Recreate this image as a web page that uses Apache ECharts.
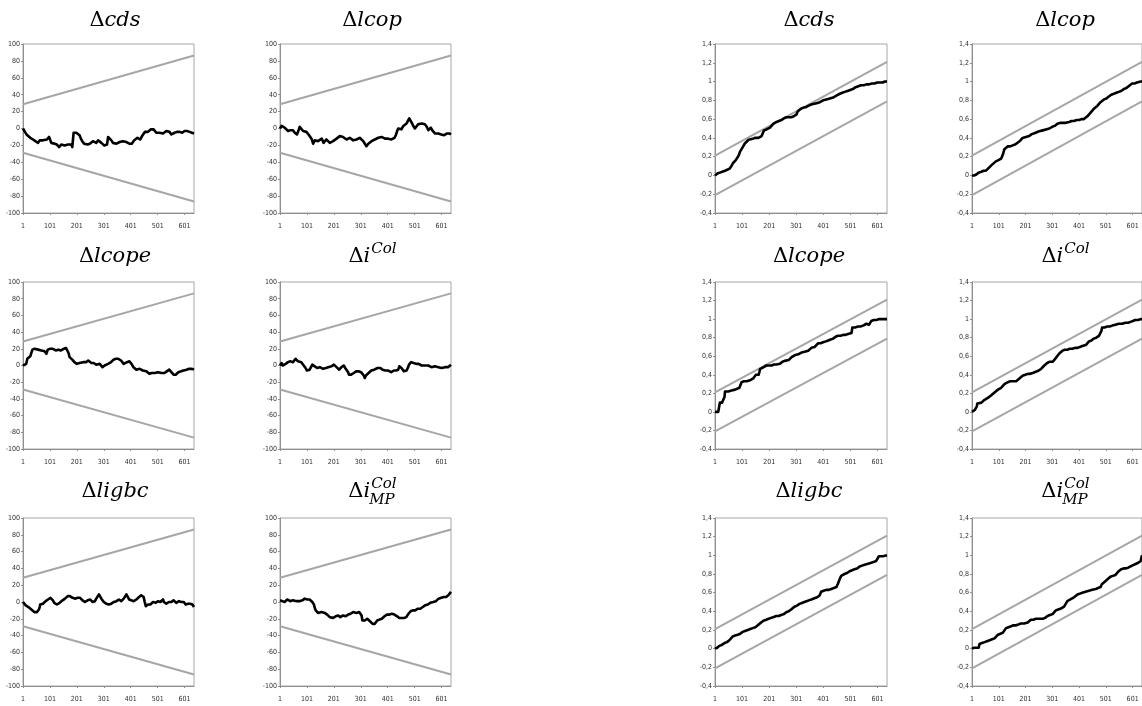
<!DOCTYPE html>
<html><head><meta charset="utf-8">
<script src="https://cdn.jsdelivr.net/npm/echarts@6/dist/echarts.min.js"></script>
<style>html,body{margin:0;padding:0;background:#fff;overflow:hidden}#c{width:1142px;height:706px}</style>
</head><body><div id="c"></div><script>
// ---------- data ----------
const obsRange = [1, 636];
const xTickLabels = [1, 101, 201, 301, 401, 501, 601];
const cusumYLabels = [-100, -80, -60, -40, -20, 0, 20, 40, 60, 80, 100];
const cusumsqYLabels = [-0.4, -0.2, 0, 0.2, 0.4, 0.6, 0.8, 1, 1.2, 1.4];

const cusumUpper = [[1, 28.8], [636, 86.4]];
const cusumLower = [[1, -28.8], [636, -86.4]];
const cusumsqUpper = [[1, 0.21], [636, 1.21]];
const cusumsqLower = [[1, -0.21], [636, 0.79]];

const cusumCds = [[1,0],[8,-4],[14,-7],[20,-9],[28,-11],[38,-13],[47,-15],[57,-17],[63,-14],[69,-15],[75,-14],[81,-12],[90,-13],[98,-10],[102,-12],[106,-17],[112,-16],[119,-18],[127,-19],[135,-22],[143,-19],[150,-18],[156,-20],[162,-18],[168,-19],[174,-20],[180,-19],[184,-22],[189,-5],[194,-6],[199,-5],[205,-7],[211,-8],[216,-12],[221,-15],[228,-18],[234,-20],[241,-19],[249,-18],[255,-16],[261,-15],[267,-17],[273,-17],[280,-14],[286,-15],[292,-17],[298,-18],[303,-20],[308,-22],[313,-19],[317,-10],[323,-12],[329,-14],[335,-17],[341,-19],[348,-18],[354,-17],[360,-16],[366,-16],[372,-15],[379,-14],[385,-16],[391,-15],[396,-18],[400,-19],[405,-18],[409,-17],[414,-14],[419,-12],[426,-11],[432,-10],[436,-13],[440,-12],[445,-8],[449,-6],[454,-4],[459,-2],[465,-4],[471,-3],[476,-1],[481,1],[486,-1],[490,-3],[496,-5],[502,-7],[508,-5],[515,-4],[521,-6],[527,-6],[533,-3],[539,-1],[545,-4],[552,-7],[558,-6],[564,-5],[573,-4],[583,-4],[592,-5],[601,-3],[610,-3],[620,-4],[628,-5],[636,-6]];
const cusumLcop = [[1,0],[7,3],[12,2],[18,1],[24,-1],[31,-3],[35,-1],[39,-2],[44,-3],[49,-2],[56,-5],[60,-6],[64,-7],[69,-3],[74,2],[80,0],[87,-3],[93,-2],[99,-4],[104,-6],[109,-8],[114,-10],[118,-12],[124,-18],[130,-14],[136,-13],[142,-15],[149,-14],[156,-12],[163,-17],[168,-15],[173,-13],[180,-15],[186,-17],[192,-16],[198,-15],[205,-14],[211,-12],[217,-11],[223,-9],[229,-10],[235,-10],[241,-12],[248,-13],[254,-12],[260,-11],[266,-13],[273,-14],[279,-12],[285,-13],[291,-12],[297,-11],[304,-13],[310,-15],[316,-18],[322,-21],[329,-18],[335,-16],[341,-15],[347,-14],[353,-13],[359,-12],[366,-11],[372,-10],[378,-10],[384,-11],[391,-12],[397,-13],[403,-12],[409,-14],[415,-13],[421,-13],[426,-11],[431,-8],[436,-3],[440,0],[446,-2],[452,-1],[456,1],[459,3],[465,4],[471,6],[476,9],[481,12],[486,10],[490,7],[496,3],[502,0],[508,2],[514,5],[520,5],[527,6],[533,6],[539,5],[546,2],[552,-2],[557,0],[561,1],[566,-2],[571,-4],[577,-6],[583,-7],[589,-6],[595,-5],[600,-7],[605,-9],[610,-8],[614,-6],[620,-6],[626,-7],[631,-6],[636,-7]];
const cusumLcope = [[1,0],[7,1],[13,2],[17,8],[20,10],[24,10],[28,11],[32,15],[36,19],[40,19],[44,20],[50,19],[57,19],[63,18],[69,18],[75,17],[81,17],[85,15],[88,14],[93,19],[98,21],[102,20],[106,21],[112,20],[119,20],[123,18],[127,17],[132,19],[137,20],[142,18],[147,18],[152,20],[156,21],[161,21],[166,20],[170,15],[174,10],[177,9],[180,8],[184,7],[187,6],[192,4],[197,3],[201,2],[205,3],[211,3],[218,2],[224,4],[230,5],[235,4],[239,4],[243,6],[246,6],[250,4],[255,3],[259,3],[263,3],[268,2],[273,1],[280,1],[286,2],[291,0],[296,-2],[300,-1],[304,0],[307,1],[310,2],[317,2],[323,2],[328,4],[333,5],[337,7],[341,8],[346,8],[350,9],[355,8],[360,7],[365,6],[370,4],[375,2],[378,2],[382,3],[387,4],[391,5],[396,5],[400,5],[404,2],[407,0],[411,-2],[416,-4],[422,-5],[428,-5],[434,-4],[440,-5],[446,-6],[453,-7],[459,-7],[465,-8],[470,-10],[474,-11],[479,-9],[484,-8],[490,-9],[496,-9],[502,-8],[509,-8],[515,-9],[521,-9],[526,-9],[531,-10],[535,-7],[539,-5],[544,-5],[548,-6],[552,-8],[556,-10],[560,-11],[564,-12],[568,-11],[573,-11],[578,-8],[583,-6],[588,-7],[593,-8],[597,-6],[601,-5],[608,-5],[614,-5],[618,-4],[622,-3],[629,-4],[636,-5]];
const cusumICol = [[1,0],[4,2],[7,3],[11,0],[15,-2],[18,0],[22,2],[26,3],[31,4],[35,4],[39,5],[44,4],[49,4],[54,6],[59,8],[63,7],[68,5],[74,5],[80,4],[85,2],[89,0],[93,-2],[96,-3],[99,-5],[101,-6],[106,-6],[111,-5],[116,-2],[121,1],[125,0],[130,-1],[135,-2],[139,-3],[144,-2],[149,-2],[155,-3],[161,-4],[166,-4],[171,-3],[176,-2],[180,-2],[186,-2],[192,-1],[196,0],[201,1],[206,0],[211,-2],[216,-4],[221,-5],[225,-3],[229,-2],[234,-1],[238,0],[241,-2],[245,-4],[250,-6],[254,-8],[257,-11],[260,-13],[265,-11],[270,-10],[275,-9],[279,-8],[284,-7],[288,-6],[293,-7],[297,-7],[302,-8],[307,-9],[312,-12],[316,-15],[320,-12],[325,-10],[330,-9],[335,-8],[340,-6],[345,-4],[351,-5],[357,-5],[363,-3],[369,-2],[374,-3],[378,-4],[382,-5],[387,-6],[392,-6],[397,-5],[403,-6],[409,-8],[414,-8],[419,-7],[424,-6],[428,-5],[432,-6],[436,-8],[440,-5],[444,-1],[448,-2],[452,-3],[457,-5],[461,-7],[466,-7],[471,-6],[474,-4],[477,-2],[480,1],[483,3],[488,4],[493,4],[497,3],[502,3],[507,2],[511,1],[516,2],[521,2],[527,0],[533,-1],[539,0],[545,1],[551,0],[558,-1],[564,-2],[570,-2],[576,-1],[583,-1],[589,-2],[595,-3],[601,-3],[608,-2],[614,-2],[620,-3],[625,-2],[630,0],[636,1]];
const cusumLigbc = [[1,0],[4,-1],[7,-2],[11,-4],[16,-5],[21,-6],[26,-7],[32,-9],[38,-10],[43,-12],[48,-13],[53,-12],[57,-11],[60,-9],[63,-6],[65,-3],[70,-3],[75,-2],[80,0],[85,1],[90,2],[94,3],[99,4],[103,5],[108,4],[112,2],[117,-1],[122,-3],[127,-3],[131,-2],[137,-1],[143,1],[148,2],[152,3],[157,4],[162,5],[167,7],[171,9],[175,7],[180,5],[185,5],[189,4],[194,4],[199,3],[204,5],[209,6],[213,5],[218,4],[222,2],[226,0],[231,0],[236,1],[241,2],[246,3],[251,3],[255,2],[259,0],[263,-1],[268,1],[273,4],[278,6],[283,9],[287,7],[292,4],[296,2],[301,0],[306,-1],[310,-2],[315,-3],[320,-3],[325,-3],[329,-2],[334,-1],[338,0],[343,1],[348,1],[352,2],[357,3],[362,2],[366,1],[371,2],[375,4],[380,6],[385,9],[390,6],[395,3],[399,2],[403,2],[408,1],[412,1],[417,2],[422,3],[427,5],[432,6],[436,7],[440,8],[445,7],[449,6],[453,0],[457,-5],[461,-4],[465,-3],[470,-3],[474,-3],[479,-2],[484,0],[489,0],[494,-1],[498,0],[502,1],[507,1],[511,0],[516,2],[521,3],[524,0],[527,-2],[530,-2],[533,-2],[538,-1],[543,0],[547,0],[552,0],[556,1],[560,2],[565,0],[570,-1],[575,0],[580,1],[585,0],[589,0],[594,1],[598,0],[602,-2],[605,-3],[610,-2],[614,-2],[618,-2],[622,-2],[626,-3],[630,-3],[633,-4],[636,-6]];
const cusumIColMP = [[1,2],[5,1],[10,1],[14,0],[18,0],[22,1],[25,1],[28,3],[31,4],[35,2],[39,1],[44,2],[49,2],[55,1],[62,1],[68,0],[74,1],[79,1],[84,2],[89,3],[93,4],[96,5],[99,5],[102,3],[105,2],[108,3],[111,3],[116,1],[121,0],[124,-2],[127,-3],[130,-7],[134,-10],[138,-12],[142,-13],[148,-12],[155,-12],[161,-12],[167,-13],[171,-14],[176,-15],[181,-17],[186,-18],[192,-19],[198,-19],[203,-18],[208,-17],[212,-16],[217,-16],[221,-17],[225,-18],[230,-17],[235,-16],[240,-16],[245,-17],[250,-16],[254,-15],[259,-14],[263,-14],[268,-13],[273,-12],[279,-12],[285,-13],[290,-12],[295,-12],[300,-14],[304,-16],[307,-22],[312,-21],[316,-22],[320,-21],[325,-20],[330,-21],[335,-23],[340,-25],[345,-26],[350,-28],[353,-26],[357,-24],[362,-22],[366,-20],[370,-21],[374,-22],[379,-20],[384,-18],[389,-17],[394,-16],[398,-15],[403,-14],[407,-15],[412,-16],[416,-14],[421,-13],[426,-15],[431,-16],[436,-17],[440,-18],[444,-19],[449,-20],[454,-19],[459,-18],[462,-19],[465,-19],[470,-18],[474,-17],[478,-14],[481,-12],[486,-11],[490,-10],[494,-10],[498,-11],[503,-10],[508,-9],[513,-8],[518,-7],[522,-8],[527,-9],[531,-6],[536,-4],[540,-4],[545,-5],[550,-3],[555,-2],[559,-1],[564,0],[570,0],[576,-1],[580,1],[585,3],[590,4],[595,4],[600,5],[605,6],[610,6],[614,5],[618,6],[622,7],[626,8],[630,8],[633,9],[636,12]];

const cusumsqCds = [[1,0],[10,0.02],[19,0.03],[28,0.04],[38,0.05],[46,0.06],[54,0.07],[58,0.08],[62,0.10],[67,0.13],[71,0.15],[77,0.16],[83,0.18],[88,0.21],[93,0.25],[99,0.28],[105,0.31],[111,0.34],[118,0.36],[125,0.38],[132,0.39],[140,0.39],[148,0.40],[155,0.40],[161,0.40],[167,0.41],[173,0.42],[178,0.44],[182,0.48],[186,0.48],[191,0.49],[197,0.50],[204,0.51],[210,0.53],[216,0.55],[222,0.56],[228,0.57],[237,0.58],[247,0.59],[256,0.61],[265,0.62],[274,0.62],[283,0.62],[292,0.63],[302,0.65],[306,0.68],[310,0.70],[318,0.71],[326,0.72],[338,0.73],[351,0.75],[363,0.76],[376,0.77],[388,0.78],[400,0.80],[412,0.81],[425,0.82],[437,0.83],[449,0.85],[455,0.86],[462,0.87],[471,0.88],[480,0.89],[490,0.90],[500,0.91],[510,0.92],[520,0.94],[530,0.95],[540,0.96],[550,0.96],[560,0.97],[570,0.97],[580,0.98],[590,0.98],[600,0.99],[610,0.99],[620,0.99],[628,1.0],[636,1.0]];
const cusumsqLcop = [[1,0],[9,0.0],[17,0.01],[26,0.03],[36,0.04],[44,0.05],[52,0.05],[60,0.07],[67,0.09],[74,0.11],[81,0.13],[90,0.15],[98,0.16],[104,0.17],[110,0.18],[116,0.22],[122,0.28],[128,0.30],[135,0.31],[144,0.31],[153,0.32],[162,0.33],[172,0.35],[181,0.37],[190,0.40],[202,0.41],[215,0.42],[224,0.44],[234,0.45],[243,0.46],[252,0.47],[265,0.48],[277,0.49],[290,0.50],[302,0.52],[311,0.53],[320,0.55],[330,0.56],[339,0.56],[351,0.56],[364,0.57],[373,0.58],[382,0.58],[392,0.59],[401,0.59],[410,0.60],[419,0.60],[426,0.62],[432,0.63],[438,0.65],[444,0.67],[450,0.69],[456,0.71],[462,0.73],[469,0.74],[475,0.76],[481,0.78],[488,0.80],[494,0.81],[503,0.82],[512,0.84],[521,0.86],[531,0.87],[540,0.88],[549,0.89],[558,0.90],[568,0.92],[577,0.93],[586,0.95],[593,0.97],[599,0.98],[608,0.98],[617,0.99],[624,1.0],[631,1.0],[636,1.0]];
const cusumsqLcope = [[1,0],[7,0.0],[13,0.0],[16,0.05],[19,0.10],[27,0.10],[34,0.11],[36,0.16],[38,0.22],[44,0.22],[50,0.22],[56,0.23],[62,0.23],[68,0.24],[75,0.24],[83,0.25],[91,0.26],[95,0.29],[99,0.32],[108,0.33],[118,0.33],[124,0.34],[130,0.34],[136,0.35],[142,0.36],[147,0.38],[152,0.40],[157,0.40],[162,0.40],[165,0.43],[167,0.46],[173,0.47],[179,0.48],[185,0.49],[191,0.50],[200,0.50],[210,0.50],[219,0.51],[228,0.51],[234,0.51],[241,0.52],[245,0.53],[250,0.54],[258,0.55],[265,0.56],[273,0.56],[280,0.57],[284,0.59],[287,0.61],[295,0.61],[302,0.62],[308,0.62],[314,0.63],[320,0.64],[326,0.65],[335,0.65],[345,0.66],[351,0.67],[357,0.69],[363,0.69],[369,0.70],[376,0.72],[382,0.74],[391,0.74],[400,0.75],[410,0.76],[419,0.77],[428,0.78],[437,0.79],[446,0.81],[455,0.82],[465,0.82],[474,0.83],[483,0.83],[492,0.84],[499,0.84],[505,0.85],[508,0.91],[518,0.91],[529,0.92],[538,0.92],[548,0.93],[554,0.94],[560,0.95],[565,0.94],[570,0.94],[574,0.96],[578,0.98],[587,0.99],[597,0.99],[606,1.0],[615,1.0],[625,1.0],[636,1.0]];
const cusumsqICol = [[1,0],[6,0.01],[11,0.02],[17,0.03],[19,0.06],[21,0.09],[28,0.09],[36,0.10],[42,0.12],[48,0.13],[54,0.14],[60,0.15],[67,0.17],[73,0.18],[79,0.19],[85,0.21],[92,0.23],[98,0.24],[104,0.25],[110,0.26],[116,0.28],[122,0.30],[128,0.31],[135,0.32],[144,0.33],[153,0.33],[160,0.33],[166,0.33],[172,0.35],[178,0.36],[184,0.38],[190,0.39],[200,0.40],[209,0.41],[218,0.41],[228,0.42],[237,0.43],[246,0.44],[252,0.45],[258,0.46],[264,0.48],[271,0.50],[277,0.52],[283,0.53],[292,0.54],[302,0.54],[308,0.56],[314,0.58],[320,0.60],[327,0.63],[333,0.65],[339,0.66],[348,0.67],[357,0.67],[366,0.68],[376,0.68],[385,0.69],[395,0.69],[404,0.70],[413,0.71],[420,0.72],[426,0.72],[432,0.74],[438,0.76],[447,0.77],[456,0.79],[465,0.80],[475,0.82],[481,0.83],[484,0.87],[487,0.91],[496,0.91],[506,0.92],[515,0.92],[525,0.93],[537,0.94],[549,0.95],[562,0.95],[574,0.96],[584,0.96],[593,0.97],[602,0.98],[611,0.99],[621,0.99],[631,1.0],[636,1.0]];
const cusumsqLigbc = [[1,0],[9,0.01],[17,0.03],[26,0.04],[36,0.06],[45,0.07],[54,0.09],[60,0.11],[66,0.13],[75,0.14],[85,0.15],[94,0.16],[103,0.18],[112,0.19],[122,0.20],[131,0.21],[140,0.22],[150,0.23],[159,0.25],[165,0.26],[171,0.28],[180,0.30],[190,0.31],[199,0.32],[208,0.33],[218,0.34],[227,0.35],[236,0.35],[245,0.36],[255,0.37],[264,0.39],[273,0.40],[282,0.42],[288,0.43],[294,0.45],[303,0.46],[313,0.48],[322,0.49],[331,0.50],[341,0.51],[350,0.52],[359,0.53],[368,0.54],[378,0.55],[387,0.57],[390,0.59],[393,0.61],[402,0.62],[412,0.63],[421,0.63],[430,0.64],[440,0.65],[449,0.66],[454,0.69],[458,0.72],[462,0.75],[467,0.78],[473,0.79],[479,0.80],[488,0.81],[498,0.83],[507,0.84],[516,0.85],[526,0.86],[535,0.88],[544,0.89],[553,0.90],[566,0.91],[578,0.92],[587,0.93],[596,0.94],[603,0.95],[606,0.99],[613,0.99],[621,0.99],[628,1.0],[636,1.0]];
const cusumsqIColMP = [[1,0],[9,0.01],[17,0.01],[26,0.01],[29,0.05],[38,0.06],[48,0.07],[57,0.08],[67,0.09],[76,0.10],[85,0.11],[92,0.13],[98,0.15],[107,0.16],[116,0.17],[122,0.19],[128,0.22],[137,0.23],[147,0.24],[156,0.25],[166,0.25],[175,0.26],[184,0.27],[196,0.27],[209,0.28],[215,0.30],[221,0.31],[230,0.31],[240,0.32],[252,0.32],[265,0.32],[274,0.33],[283,0.35],[292,0.36],[302,0.37],[308,0.39],[314,0.41],[323,0.42],[333,0.43],[339,0.44],[345,0.45],[351,0.48],[357,0.51],[363,0.52],[370,0.53],[376,0.54],[382,0.55],[388,0.57],[395,0.58],[404,0.59],[413,0.60],[425,0.61],[438,0.62],[450,0.63],[463,0.64],[472,0.65],[481,0.66],[486,0.69],[490,0.71],[498,0.72],[506,0.74],[512,0.76],[518,0.77],[527,0.78],[537,0.79],[543,0.81],[549,0.83],[558,0.85],[568,0.86],[577,0.86],[586,0.87],[592,0.88],[599,0.89],[606,0.90],[614,0.91],[622,0.92],[631,0.94],[636,1.0]];

// titles: [plain prefix, italic base, superscript, subscript]
const titleCds = ['Δ', 'cds', '', ''];
const titleLcop = ['Δ', 'lcop', '', ''];
const titleLcope = ['Δ', 'lcope', '', ''];
const titleICol = ['Δ', 'i', 'Col', ''];
const titleLigbc = ['Δ', 'ligbc', '', ''];
const titleIColMP = ['Δ', 'i', 'Col', 'MP'];

// ---------- layout ----------
const colLeft = [23, 280, 715, 972];
const colWidth = [171, 171, 172, 171];
const rowTop = [44, 282, 518];
const rowHeight = [169, 167, 168];
const titleCx = [115, 372, 809, 1065];
const titleCy = [21, 257, 492];

const panels = [
  {col:0,row:0,kind:'cusum',data:cusumCds,title:titleCds},
  {col:1,row:0,kind:'cusum',data:cusumLcop,title:titleLcop},
  {col:0,row:1,kind:'cusum',data:cusumLcope,title:titleLcope},
  {col:1,row:1,kind:'cusum',data:cusumICol,title:titleICol},
  {col:0,row:2,kind:'cusum',data:cusumLigbc,title:titleLigbc},
  {col:1,row:2,kind:'cusum',data:cusumIColMP,title:titleIColMP},
  {col:2,row:0,kind:'sq',data:cusumsqCds,title:titleCds},
  {col:3,row:0,kind:'sq',data:cusumsqLcop,title:titleLcop},
  {col:2,row:1,kind:'sq',data:cusumsqLcope,title:titleLcope},
  {col:3,row:1,kind:'sq',data:cusumsqICol,title:titleICol},
  {col:2,row:2,kind:'sq',data:cusumsqLigbc,title:titleLigbc},
  {col:3,row:2,kind:'sq',data:cusumsqIColMP,title:titleIColMP}
];

const AXIS = '#8f8f8f';
const LABEL_FONT = "'Liberation Sans Narrow','DejaVu Sans Condensed','Liberation Sans',sans-serif";
const TITLE_FONT = "'DejaVu Serif',serif";
const TSIZE = 21, SSIZE = 15;

const measure = document.createElement('canvas').getContext('2d');
function tw(t, size, italic) {
  measure.font = (italic ? 'italic ' : '') + size + 'px ' + TITLE_FONT;
  return measure.measureText(t).width;
}

const grids = [], xAxes = [], yAxes = [], series = [], graphics = [];
panels.forEach((p, i) => {
  grids.push({left: colLeft[p.col], top: rowTop[p.row], width: colWidth[p.col], height: rowHeight[p.row],
    show: true, borderColor: '#a6a6a6', borderWidth: 1, containLabel: false});
  xAxes.push({type: 'value', gridIndex: i, min: obsRange[0], max: obsRange[1],
    axisLine: {show: true, onZero: false, lineStyle: {color: AXIS, width: 1}},
    axisTick: {show: true, length: 2, customValues: xTickLabels, lineStyle: {color: AXIS}},
    splitLine: {show: false},
    axisLabel: {customValues: xTickLabels, fontSize: 7, fontFamily: LABEL_FONT, color: '#303030', margin: 10}
  });
  const ticks = p.kind === 'cusum' ? cusumYLabels : cusumsqYLabels;
  yAxes.push({type: 'value', gridIndex: i, min: ticks[0], max: ticks[ticks.length - 1],
    interval: Math.round((ticks[1] - ticks[0]) * 100) / 100,
    axisLine: {show: true, onZero: false, lineStyle: {color: AXIS, width: 1}},
    axisTick: {show: true, length: 2, lineStyle: {color: AXIS}},
    splitLine: {show: false},
    axisLabel: {fontSize: 7, fontFamily: LABEL_FONT, color: '#303030', margin: 3,
      formatter: v => String(Math.round(v * 10) / 10).replace('.', ',')}
  });
  const up = p.kind === 'cusum' ? cusumUpper : cusumsqUpper;
  const lo = p.kind === 'cusum' ? cusumLower : cusumsqLower;
  [up, lo].forEach(b => series.push({type: 'line', xAxisIndex: i, yAxisIndex: i, data: b,
    showSymbol: false, silent: true, lineStyle: {color: '#a6a6a6', width: 2}, z: 2}));
  series.push({type: 'line', xAxisIndex: i, yAxisIndex: i, data: p.data, showSymbol: false, silent: true,
    lineStyle: {color: '#000', width: 2.6, join: 'round'}, z: 3});

  // title
  const [pre, base, sup, sub] = p.title;
  const wMain = tw(pre, TSIZE, false) + tw(base, TSIZE, true);
  const wScript = Math.max(sup ? tw(sup, SSIZE, true) : 0, sub ? tw(sub, SSIZE, true) : 0);
  const x0 = titleCx[p.col] - (wMain + wScript) / 2;
  const cy = titleCy[p.row];
  graphics.push({type: 'text', x: x0, y: cy, style: {
    text: '{a|' + pre + '}{b|' + base + '}', verticalAlign: 'middle', align: 'left',
    rich: {a: {fontFamily: TITLE_FONT, fontSize: TSIZE, fill: '#000'},
           b: {fontFamily: TITLE_FONT, fontSize: TSIZE, fontStyle: 'italic', fill: '#000'}}}});
  if (sup) graphics.push({type: 'text', x: x0 + wMain + 1, y: cy - 8, style: {text: sup,
    fontFamily: TITLE_FONT, fontSize: SSIZE, fontStyle: 'italic', fill: '#000', verticalAlign: 'middle', align: 'left'}});
  if (sub) graphics.push({type: 'text', x: x0 + wMain - 1, y: cy + 8, style: {text: sub,
    fontFamily: TITLE_FONT, fontSize: SSIZE, fontStyle: 'italic', fill: '#000', verticalAlign: 'middle', align: 'left'}});
});

const chart = echarts.init(document.getElementById('c'), null, {renderer: 'canvas'});
chart.setOption({animation: false, backgroundColor: '#fff', grid: grids, xAxis: xAxes, yAxis: yAxes,
  series: series, graphic: graphics});
</script></body></html>
